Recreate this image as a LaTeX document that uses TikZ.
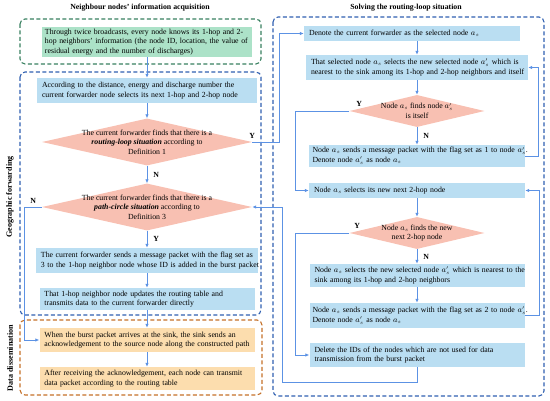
\documentclass[tikz,border=0pt]{standalone}
\usepackage{fontspec}
\setmainfont{Liberation Serif}
\usepackage{xcolor}
\usetikzlibrary{arrows, arrows.meta}
\usetikzlibrary{shapes.geometric}
\definecolor{greenfill}{RGB}{172,226,200}
\definecolor{bluefill}{RGB}{186,222,242}
\definecolor{pinkfill}{RGB}{248,192,178}
\definecolor{orangefill}{RGB}{252,221,174}
\definecolor{greenline}{RGB}{56,128,96}
\definecolor{blueline}{RGB}{48,96,176}
\definecolor{orangeline}{RGB}{196,112,40}
\definecolor{flowblue}{RGB}{92,146,228}
\newcommand{\boxfont}{\fontsize{7.8pt}{9.7pt}\selectfont}

\begin{document}
\begin{tikzpicture}[x=1pt, y=-1pt,
	stepbox/.style={rectangle, fill=bluefill, align=left, inner xsep=5pt, inner ysep=0pt, font=\boxfont},
	infobox/.style={stepbox, fill=greenfill},
	endbox/.style={stepbox, fill=orangefill},
	choice/.style={diamond, fill=pinkfill, aspect=4, inner xsep=-40pt, inner ysep=0pt, align=center, font=\boxfont, minimum width=210pt, minimum height=47pt},
	smallchoice/.style={choice, inner xsep=-15pt, minimum width=135pt, minimum height=32pt},
	flow/.style={draw=flowblue, line width=0.8pt, -{Latex[length=4pt,width=3.5pt]}},
	zone/.style={line width=1.1pt, dash pattern=on 4pt off 2.5pt, rounded corners=5pt},
	yn/.style={font=\bfseries\boxfont, inner sep=1pt},
	heading/.style={font=\bfseries\fontsize{7.8pt}{9.5pt}\selectfont, inner sep=0pt},
	sidehead/.style={heading, font=\bfseries\fontsize{8.1pt}{9.5pt}\selectfont, rotate=90}]
	\useasboundingbox (0,0) rectangle (550,401);
	% titles and side labels
	\node[heading] (lefttitle) at (140,8) {Neighbour nodes' information acquisition};
	\node[heading] (righttitle) at (406,8) {Solving the routing-loop situation};
	\node[sidehead] (geolabel) at (10,197) {Geographic forwarding};
	\node[sidehead] (datalabel) at (10,358) {Data dissemination};
	% dashed zones
	\draw[zone, greenline] (20,19) rectangle (261,64);
	\draw[zone, blueline] (20,72) rectangle (261,315);
	\draw[zone, orangeline] (20,320) rectangle (262,395);
	\draw[zone, blueline] (273,17) rectangle (544,396);
	
	% left column
	\node[infobox, text width=204pt, inner xsep=3pt, minimum height=30pt] (info) at (147,42) {\mbox{Through twice broadcasts, every node knows its 1-hop and 2-}\\\mbox{hop neighbors' information (the node ID, location, the value of}\\residual energy and the number of discharges)};
	\node[stepbox, text width=210pt, minimum height=25pt] (select) at (147,90.5) {According to the distance, energy and discharge number the\\current forwarder node selects its next 1-hop and 2-hop node};
	\node[choice] (loop) at (147,142) {The current forwarder finds that there is a\\\textbf{\textit{routing-loop situation}} according to\\Definition 1};
	\node[choice] (circle) at (147,207) {The current forwarder finds that there is a\\\textbf{\textit{path-circle situation}} according to\\Definition 3};
	\node[stepbox, text width=212pt, minimum height=25pt] (sendthree) at (147,260.5) {\mbox{The current forwarder sends a message packet with the flag set as}\\\mbox{3 to the 1-hop neighbor node whose ID is added in the burst packet}};
	\node[stepbox, text width=205pt, minimum height=22pt] (update) at (147,299) {That 1-hop neighbor node updates the routing table and\\transmits data to the current forwarder directly};
	\node[endbox, text width=205pt, minimum height=24pt] (ack) at (147,340) {When the burst packet arrives at the sink, the sink sends an\\acknowledgement to the source node along the constructed path};
	\node[endbox, text width=205pt, minimum height=23pt] (transmit) at (147,378.5) {After receiving the acknowledgement, each node can transmit\\data packet according to the routing table};
	
	% right column
	\node[stepbox, text width=206pt, minimum height=15pt] (denote) at (412,33.5) {Denote the current forwarder as the selected node $a_s$};
	\node[stepbox, text width=212pt, minimum height=25pt] (nearest) at (417,67.5) {\mbox{That selected node $a_s$ selects the new selected node $a'_s$ which is}\\\mbox{nearest to the sink among its 1-hop and 2-hop neighbors and itself}};
	\node[smallchoice] (itself) at (417,111) {Node $a_s$ finds node $a'_s$\\is itself};
	\node[stepbox, text width=209pt, inner xsep=3.5pt, minimum height=22pt] (flagone) at (417,156) {\mbox{Node $a_s$ sends a message packet with the flag set as 1 to node $a'_s$.}\\Denote node $a'_s$ as node $a_s$};
	\node[stepbox, text width=206pt, minimum height=15pt] (nexthop) at (417,190.5) {Node $a_s$ selects its new next 2-hop node};
	\node[smallchoice] (newhop) at (417,233) {Node $a_s$ finds the new\\next 2-hop node};
	\node[stepbox, text width=205pt, minimum height=23pt] (nearesttwo) at (417,275.5) {\mbox{Node $a_s$ selects the new selected node $a'_s$ which is nearest to the}\\sink among its 1-hop and 2-hop neighbors};
	\node[stepbox, text width=209pt, inner xsep=3pt, minimum height=25pt] (flagtwo) at (417,315.5) {\mbox{Node $a_s$ sends a message packet with the flag set as 2 to node $a'_s$.}\\Denote node $a'_s$ as node $a_s$};
	\node[stepbox, text width=205pt, minimum height=24pt] (delete) at (417,355) {Delete the IDs of the nodes which are not used for data\\transmission from the burst packet};
	
	% left connectors
	\draw[flow] (info) -- (select);
	\draw[flow] (select) -- (loop);
	\draw[flow] (loop) -- (circle) node[midway, right=5pt, yn] {N};
	\draw[flow] (circle) -- (sendthree) node[midway, right=5pt, yn] {Y};
	\draw[flow] (sendthree) -- (update);
	\draw[flow] (update) -- (ack);
	\draw[flow] (ack) -- (transmit);
	\draw[flow] (circle.west) -- ++(-17,0) node[midway, above=2pt, yn] {N} |- (ack.west);
	\draw[flow] (loop.east) node[above=2pt, yn] {Y} -- ++(27,0) |- (denote.west);
	\draw[flow] (delete.south) |- (282,382) |- (circle.east);
	
	% right connectors
	\draw[flow] (denote.south -| nearest.north) -- (nearest.north);
	\draw[flow] (nearest) -- (itself);
	\draw[flow] (itself) -- (flagone) node[midway, right=5pt, yn] {N};
	\draw[flow] (itself.west) node[above=3pt, xshift=10pt, yn] {Y} -- ++(-54,0) |- (nexthop.west);
	\draw[flow] (flagone.east) -- ++(13,0) |- (nearest.east);
	\draw[flow] (nexthop) -- (newhop);
	\draw[flow] (newhop) -- (nearesttwo) node[midway, right=5pt, yn] {N};
	\draw[flow] (newhop.west) node[above=3pt, xshift=8pt, yn] {Y} -- ++(-54,0) |- (delete.west);
	\draw[flow] (nearesttwo) -- (flagtwo);
	\draw[flow] (flagtwo.east) -- ++(15,0) |- (nexthop.east);
\end{tikzpicture}
\end{document}
